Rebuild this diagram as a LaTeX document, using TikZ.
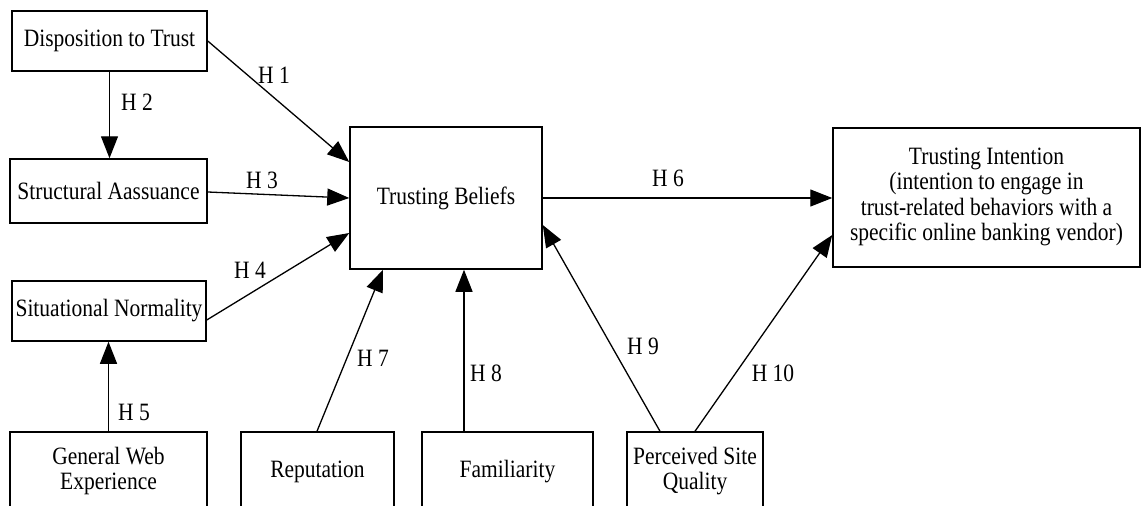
\documentclass[tikz,border=0pt]{standalone}
\usepackage{fontspec}
\setmainfont{Liberation Serif}
\usetikzlibrary{arrows.meta,calc}
\newcommand{\vs}[1]{\scalebox{1}[1.16]{#1}}
\newcommand{\ml}[1]{\vs{\begin{tabular}{@{}c@{}}#1\end{tabular}}}
\tikzset{
  box/.style={draw=black, line width=1.5pt, rectangle, inner sep=0pt, align=center},
  conn/.style={draw=black, line width=1.3pt, -{Triangle[length=22pt,width=17pt]}},
  hlab/.style={inner sep=0pt},
}
\begin{document}
\begin{tikzpicture}[x=1pt,y=-1pt,font=\fontsize{21.5}{21.8}\selectfont]
\useasboundingbox (0,0) rectangle (1141,506);
\clip (0,0) rectangle (1141,506);
\fill[white] (0,0) rectangle (1141,506);
% nodes
\node[box, minimum width=195pt, minimum height=60pt] (dt) at (109.5,41) {\vs{Disposition to Trust}};
\node[box, minimum width=197pt, minimum height=64pt] (sa) at (108.5,191) {\vs{Structural Aassuance}};
\node[box, minimum width=194pt, minimum height=60pt] (sn) at (109,311) {\vs{Situational Normality}};
\node[box, minimum width=197pt, minimum height=80pt] (gwe) at (108.5,472) {\ml{General Web\\Experience}};
\node[box, minimum width=153pt, minimum height=80pt] (rep) at (317.5,472) {\vs{Reputation}};
\node[box, minimum width=171pt, minimum height=80pt] (fam) at (507.5,472) {\vs{Familiarity}};
\node[box, minimum width=136pt, minimum height=80pt] (psq) at (695,472) {\ml{Perceived Site\\Quality}};
\node[box, minimum width=192pt, minimum height=142pt] (tb) at (446,198) {\vs{Trusting Beliefs}};
\node[box, minimum width=307pt, minimum height=139pt] (ti) at (986.5,197.5) {\ml{Trusting Intention\\(intention to engage in\\trust-related behaviors with a\\specific online banking vendor)}};
% connectors
\draw[conn] (dt.east) -- ([yshift=36pt]tb.west);
\draw[conn] (dt.south) -- (dt.south |- sa.north);
\draw[conn] ([yshift=-1pt]sa.east) -- (tb.west);
\draw[conn] ([yshift=-9pt]sn.east) -- ([yshift=-35pt]tb.west);
\draw[conn] (gwe.north) -- (gwe.north |- sn.south);
\draw[conn] ([xshift=-0.5pt]rep.north) -- ([xshift=-63pt]tb.south);
\draw[conn] ([xshift=-43.5pt]fam.north) -- ([xshift=18pt]tb.south);
\draw[conn] ([xshift=-35pt]psq.north) -- ([yshift=-27pt]tb.east);
\draw[conn] (psq.north) -- ([yshift=-37.5pt]ti.west);
\draw[conn] (tb.east) -- (tb.east -| ti.west);
% labels
\node[hlab] (l1) at (274,75) {\vs{H 1}};
\node[hlab] (l2) at (137,102) {\vs{H 2}};
\node[hlab] (l3) at (262,180) {\vs{H 3}};
\node[hlab] (l4) at (250,270) {\vs{H 4}};
\node[hlab] (l5) at (134,412) {\vs{H 5}};
\node[hlab] (l6) at (668,178) {\vs{H 6}};
\node[hlab] (l7) at (373,358) {\vs{H 7}};
\node[hlab] (l8) at (486,373) {\vs{H 8}};
\node[hlab] (l9) at (643,346) {\vs{H 9}};
\node[hlab] (l10) at (773,373) {\vs{H 10}};
\end{tikzpicture}
\end{document}
